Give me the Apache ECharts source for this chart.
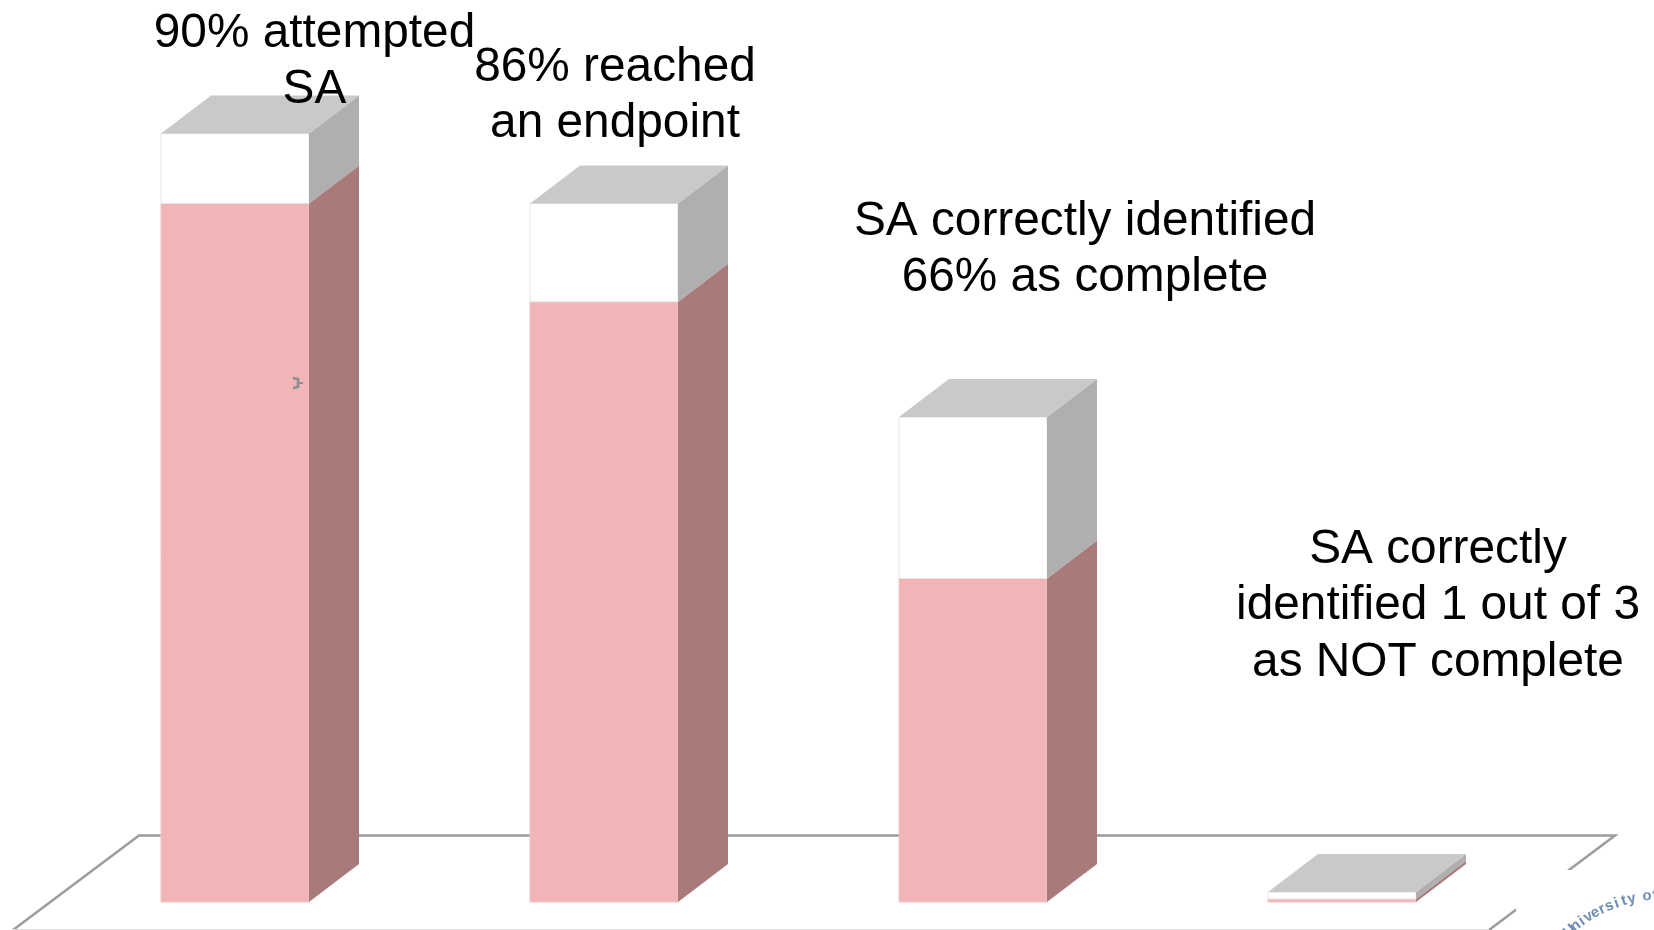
<!DOCTYPE html>
<html>
<head>
<meta charset="utf-8">
<style>
  html, body { margin: 0; padding: 0; background: #fff; }
  #chart { width: 1654px; height: 930px; }
</style>
<script src="https://cdn.jsdelivr.net/npm/echarts@6/dist/echarts.min.js"></script>
</head>
<body>
<div id="chart"></div>
<script>
const categories = ['Attempted', 'Reached endpoint', 'Complete', 'Not complete']
// share of the group shown by each column
const pinkValues = [90.9, 78.1, 42.1, 0.4]
const whiteValues = [9.1, 12.8, 21, 0.9]

const labels = [
  '90% attempted\nSA',
  '86% reached\nan endpoint',
  'SA correctly identified\n66% as complete',
  'SA correctly\nidentified 1 out of 3\nas NOT complete'
]
const labelCenters = [[314.5, 62], [615, 96], [1085, 250], [1438, 606]]
const logoText = 'University of'

const DEPTH_X = 50
const DEPTH_Y = 38
const BAR_WIDTH = 148

const chart = echarts.init(document.getElementById('chart'))

function boxItem(params, api) {
  const i = api.value(0)
  const from = api.coord([i, api.value(1)])
  const to = api.coord([i, api.value(2)])
  const l = from[0] - BAR_WIDTH / 2
  const r = l + BAR_WIDTH
  const yb = from[1]
  const yt = to[1]
  const isPink = api.value(3) === 0
  const children = [
    {
      type: 'polygon',
      shape: { points: [[l, yb], [r, yb], [r, yt], [l, yt]] },
      style: { fill: isPink ? '#f1b5b8' : '#ffffff', stroke: isPink ? '#f1c4c6' : '#e4e4e4', lineWidth: 1 }
    },
    {
      type: 'polygon',
      shape: { points: [[r, yb], [r + DEPTH_X, yb - DEPTH_Y], [r + DEPTH_X, yt - DEPTH_Y], [r, yt]] },
      style: { fill: isPink ? '#a87a7a' : '#afafaf' }
    }
  ]
  if (!isPink) {
    children.push({
      type: 'polygon',
      shape: { points: [[l, yt], [l + DEPTH_X, yt - DEPTH_Y], [r + DEPTH_X, yt - DEPTH_Y], [r, yt]] },
      style: { fill: '#c9c9c9' }
    })
  }
  return { type: 'group', children }
}

const pinkData = categories.map((c, i) => [i, 0, pinkValues[i], 0])
const whiteData = categories.map((c, i) => [i, pinkValues[i], pinkValues[i] + whiteValues[i], 1])

// logo letters follow the arc of the seal
const logoLetters = logoText.split('').map((ch, i) => {
  const a = -0.07 - (logoText.length - 1 - i) * 0.054
  return {
    type: 'text', z: 4,
    x: 1665 + 145 * Math.sin(a),
    y: 1040 - 145 * Math.cos(a),
    rotation: -a,
    style: {
      text: ch,
      fill: '#6f8db3',
      font: 'bold 15px "Liberation Sans"',
      align: 'center',
      verticalAlign: 'middle',
      shadowBlur: 2,
      shadowColor: '#9fb6d0'
    }
  }
})

chart.setOption({
  animation: false,
  backgroundColor: '#fff',
  grid: { left: 50.5, right: 127.5, top: 133.5, bottom: 28 },
  xAxis: {
    type: 'category',
    data: categories,
    axisLine: { show: false },
    axisTick: { show: false },
    axisLabel: { show: false }
  },
  yAxis: {
    type: 'value',
    min: 0,
    max: 100,
    axisLine: { show: false },
    axisTick: { show: false },
    axisLabel: { show: false },
    splitLine: { show: false }
  },
  series: [
    { type: 'custom', name: 'Yes', renderItem: boxItem, data: pinkData, z: 3, clip: false },
    { type: 'custom', name: 'No', renderItem: boxItem, data: whiteData, z: 3, clip: false }
  ],
  graphic: {
    elements: [
      {
        type: 'polyline', z: 1,
        shape: { points: [[13, 930], [139, 835.5], [1615, 835.5], [1489, 930]] },
        style: { fill: null, stroke: '#9c9c9c', lineWidth: 2.5 }
      },
      {
        type: 'polyline', z: 1,
        shape: { points: [[13, 929.5], [1489, 929.5]] },
        style: { fill: null, stroke: '#dddddd', lineWidth: 1 }
      },
      // white patch behind the logo
      {
        type: 'polygon', z: 2,
        shape: { points: [[1516, 870], [1654, 870], [1654, 930], [1516, 930]] },
        style: { fill: '#fff' }
      },
      ...logoLetters,
      // small cursor mark on the first column
      {
        type: 'polyline', z: 5,
        shape: { points: [[293, 378], [298, 379], [298, 387], [293, 388]] },
        style: { fill: null, stroke: '#87908f', lineWidth: 2.5 }
      },
      {
        type: 'line', z: 5,
        shape: { x1: 298, y1: 383, x2: 303, y2: 383 },
        style: { stroke: '#87908f', lineWidth: 2 }
      },
      ...labels.map((text, i) => ({
        type: 'text', z: 6,
        x: labelCenters[i][0],
        y: labelCenters[i][1],
        style: {
          text,
          fill: '#000',
          font: '47.8px "Liberation Sans", Arial, sans-serif',
          lineHeight: 56.5,
          align: 'center',
          verticalAlign: 'middle'
        }
      }))
    ]
  }
})
</script>
</body>
</html>
